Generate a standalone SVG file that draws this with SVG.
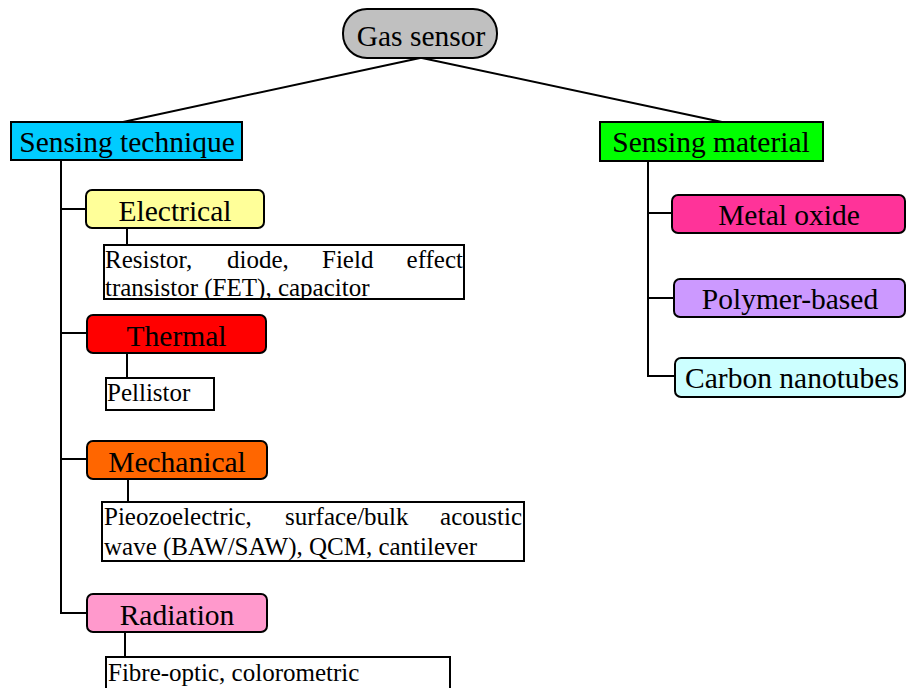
<svg xmlns="http://www.w3.org/2000/svg" width="906" height="688" viewBox="0 0 906 688">
<style>
.n{stroke:#000;stroke-width:2}
.d{fill:#fff;stroke:#000;stroke-width:2}
.c{fill:none;stroke:#000;stroke-width:2}
.l{font-family:"Liberation Serif","Times New Roman",serif;font-size:29.5px;fill:#000;text-anchor:middle}
.t{font-family:"Liberation Serif","Times New Roman",serif;font-size:25px;fill:#000}
.e{text-anchor:end}
</style>
<defs>
<clipPath id="cE"><rect x="104" y="246" width="360" height="52"/></clipPath>
<clipPath id="cM"><rect x="103" y="503" width="420" height="57"/></clipPath>
</defs>
<rect width="906" height="688" fill="#fff"/>
<g id="connectors">
<polyline class="c" points="420,58 123,122"/>
<polyline class="c" points="422,58 722,122"/>
<polyline class="c" points="61,160 61,613 87,613"/>
<line class="c" x1="61" y1="209" x2="86" y2="209"/>
<line class="c" x1="61" y1="333" x2="87" y2="333"/>
<line class="c" x1="61" y1="459" x2="87" y2="459"/>
<line class="c" x1="127" y1="228" x2="127" y2="245"/>
<line class="c" x1="127" y1="353" x2="127" y2="378"/>
<line class="c" x1="128" y1="479" x2="128" y2="502"/>
<line class="c" x1="125" y1="632" x2="125" y2="657"/>
<polyline class="c" points="648,161 648,376 675,376"/>
<line class="c" x1="648" y1="213" x2="672" y2="213"/>
<line class="c" x1="648" y1="298" x2="674" y2="298"/>
</g>
<g id="gas-sensor">
<rect class="n" x="343" y="9" width="154" height="49" rx="24" fill="#c0c0c0"/>
<text class="l" x="421" y="46">Gas sensor</text>
</g>
<g id="sensing-technique">
<rect class="n" x="11" y="122" width="231" height="38" fill="#00ccff"/>
<text class="l" x="127" y="152">Sensing technique</text>
</g>
<g id="sensing-material">
<rect class="n" x="600" y="122" width="223" height="39" fill="#00ff00"/>
<text class="l" x="711" y="152">Sensing material</text>
</g>
<g id="electrical">
<rect class="n" x="86" y="190" width="178" height="38" rx="6" fill="#ffff99"/>
<text class="l" x="175" y="221">Electrical</text>
</g>
<g id="electrical-desc">
<rect class="d" x="104" y="245" width="360" height="54"/>
<g clip-path="url(#cE)">
<text class="t" x="105" y="268">Resistor,</text>
<text class="t" x="227" y="268">diode,</text>
<text class="t" x="322" y="268">Field</text>
<text class="t e" x="463" y="268">effect</text>
<text class="t" x="105" y="296">transistor (FET), capacitor</text>
</g>
<rect x="104" y="245" width="360" height="54" fill="none" stroke="#000" stroke-width="2"/>
</g>
<g id="thermal">
<rect class="n" x="87" y="315" width="179" height="38" rx="6" fill="#ff0000"/>
<text class="l" x="176.5" y="346">Thermal</text>
</g>
<g id="thermal-desc">
<rect class="d" x="106" y="378" width="108" height="32"/>
<text class="t" x="107" y="401">Pellistor</text>
</g>
<g id="mechanical">
<rect class="n" x="87" y="441" width="180" height="38" rx="6" fill="#ff6600"/>
<text class="l" x="177" y="472">Mechanical</text>
</g>
<g id="mechanical-desc">
<rect class="d" x="102" y="502" width="422" height="59"/>
<g clip-path="url(#cM)">
<text class="t" x="104" y="525">Pieozoelectric,</text>
<text class="t" x="285" y="525">surface/bulk</text>
<text class="t e" x="522" y="525">acoustic</text>
<text class="t" x="104" y="555">wave (BAW/SAW), QCM, cantilever</text>
</g>
</g>
<g id="radiation">
<rect class="n" x="87" y="594" width="180" height="38" rx="6" fill="#ff99cc"/>
<text class="l" x="177" y="625">Radiation</text>
</g>
<g id="radiation-desc">
<rect class="d" x="106" y="657" width="344" height="50"/>
<text class="t" x="108" y="681">Fibre-optic, colorometric</text>
</g>
<g id="metal-oxide">
<rect class="n" x="672" y="195" width="233" height="38" rx="6" fill="#ff3399"/>
<text class="l" x="789" y="225">Metal oxide</text>
</g>
<g id="polymer-based">
<rect class="n" x="674" y="279" width="231" height="38" rx="6" fill="#cc99ff"/>
<text class="l" x="790" y="309">Polymer-based</text>
</g>
<g id="carbon-nanotubes">
<rect class="n" x="675" y="358" width="230" height="39" rx="6" fill="#ccffff"/>
<text class="l" x="792" y="388">Carbon nanotubes</text>
</g>
</svg>
